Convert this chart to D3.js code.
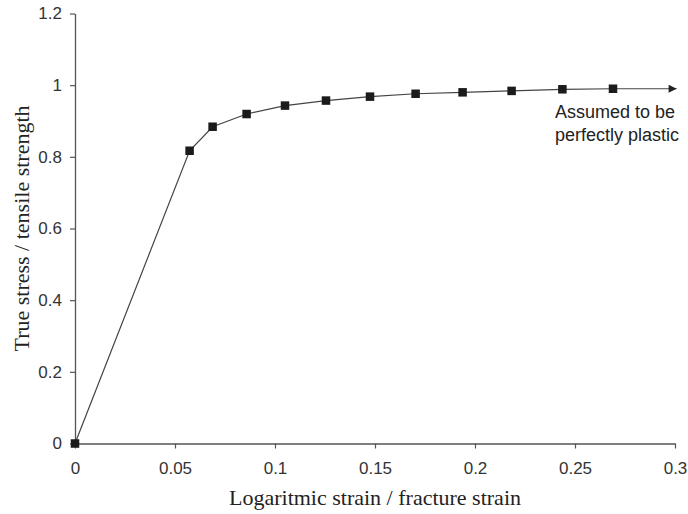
<!DOCTYPE html>
<html>
<head>
<meta charset="utf-8">
<script src="https://cdn.jsdelivr.net/npm/d3@7"></script>
<style>
  html, body { margin: 0; padding: 0; background: #fff; }
  svg { display: block; }
</style>
</head>
<body>
<svg id="chart" width="688" height="514"></svg>
<script>
// Normalised flow curve: logarithmic strain / fracture strain vs true stress / tensile strength
const strain = [0, 0.0573, 0.0688, 0.0858, 0.105, 0.1255, 0.1475, 0.1703, 0.1938, 0.2183, 0.2437, 0.269];
const stress = [0, 0.817, 0.884, 0.9195, 0.943, 0.957, 0.968, 0.976, 0.980, 0.984, 0.9885, 0.990];
// Perfectly plastic extension beyond the last measured point
const plasticEnd = [0.3008, 0.990];

const xTicks = [0, 0.05, 0.1, 0.15, 0.2, 0.25, 0.3];
const yTicks = [0, 0.2, 0.4, 0.6, 0.8, 1, 1.2];
const xTitle = "Logaritmic strain / fracture strain";
const yTitle = "True stress / tensile strength";
const note = ["Assumed to be", "perfectly plastic"];

const svg = d3.select("#chart");
const m = { left: 75, right: 13, top: 13.5, bottom: 70.5 };
const W = 688, H = 514;

const x = d3.scaleLinear().domain([0, 0.3]).range([m.left, W - m.right]);
const y = d3.scaleLinear().domain([0, 1.2]).range([H - m.bottom, m.top]);

const axisColor = "#555";
const tickFont = "'Liberation Sans', Arial, sans-serif";
const titleFont = "'Liberation Serif', 'Times New Roman', serif";

// X axis
const gx = svg.append("g")
  .attr("transform", `translate(0,${y(0)})`)
  .call(d3.axisBottom(x).tickValues(xTicks).tickSize(5).tickSizeOuter(0).tickPadding(13.5)
    .tickFormat(d => d3.format("")(d)));
// Y axis
const gy = svg.append("g")
  .attr("transform", `translate(${x(0)},0)`)
  .call(d3.axisLeft(y).tickValues(yTicks).tickSize(5).tickSizeOuter(0).tickPadding(8)
    .tickFormat(d => d3.format("")(d)));

[gx, gy].forEach(g => {
  g.select(".domain").attr("stroke", axisColor).attr("stroke-width", 1.3);
  g.selectAll(".tick line").attr("stroke", axisColor).attr("stroke-width", 1.2);
  g.selectAll(".tick text")
    .attr("fill", "#333")
    .style("font-family", tickFont)
    .style("font-size", "17px");
});

// Arrowhead marker for the plastic extension
svg.append("defs").append("marker")
  .attr("id", "arrow")
  .attr("viewBox", "0 0 10 10")
  .attr("refX", 10).attr("refY", 5)
  .attr("markerWidth", 9).attr("markerHeight", 8)
  .attr("markerUnits", "userSpaceOnUse")
  .attr("orient", "auto")
  .append("path").attr("d", "M0,0 L10,5 L0,10 Z").attr("fill", "#222");

const pts = strain.map((s, i) => [s, stress[i]]);
const line = d3.line().x(d => x(d[0])).y(d => y(d[1]));

svg.append("path")
  .datum(pts)
  .attr("d", line)
  .attr("fill", "none")
  .attr("stroke", "#444")
  .attr("stroke-width", 1.2);

svg.append("path")
  .datum([pts[pts.length - 1], plasticEnd])
  .attr("d", line)
  .attr("fill", "none")
  .attr("stroke", "#444")
  .attr("stroke-width", 1.2)
  .attr("marker-end", "url(#arrow)");

// Square markers
const sz = 8.5;
svg.append("g").selectAll("rect")
  .data(pts)
  .join("rect")
  .attr("x", d => x(d[0]) - sz / 2)
  .attr("y", d => y(d[1]) - sz / 2)
  .attr("width", sz)
  .attr("height", sz)
  .attr("fill", "#1c1a1b");

// Annotation
const t = svg.append("text")
  .attr("x", 555)
  .attr("y", y(0.99) + 29)
  .attr("fill", "#222")
  .style("font-family", tickFont)
  .style("font-size", "18px");
note.forEach((s, i) => t.append("tspan").attr("x", 555).attr("dy", i === 0 ? 0 : 23).text(s));

// Axis titles
svg.append("text")
  .attr("x", x(0.15))
  .attr("y", 505)
  .attr("text-anchor", "middle")
  .attr("fill", "#222")
  .style("font-family", titleFont)
  .style("font-size", "22px")
  .text(xTitle);

svg.append("text")
  .attr("transform", `translate(29,${y(0.6)}) rotate(-90)`)
  .attr("text-anchor", "middle")
  .attr("fill", "#222")
  .style("font-family", titleFont)
  .style("font-size", "22px")
  .text(yTitle);
</script>
</body>
</html>
